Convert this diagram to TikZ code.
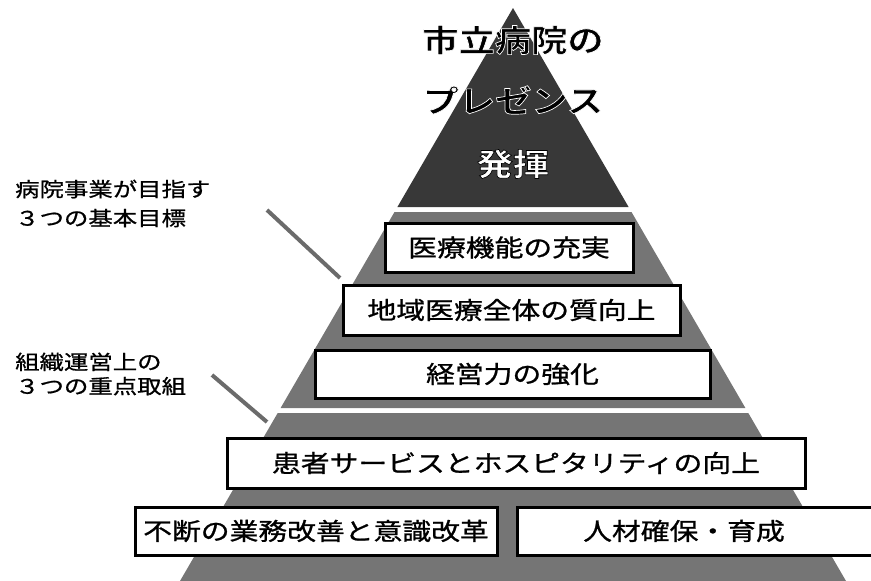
\documentclass[tikz,border=0pt]{standalone}
\usepackage{fontspec}
\newfontfamily\jp[FakeStretch=1.2,FakeBold=1]{Noto Sans CJK JP}
\newfontfamily\jplab[FakeStretch=1.22,FakeBold=0.8]{Noto Sans CJK JP}
\newfontfamily\jphalo[FakeStretch=1.17,FakeBold=2.2]{Noto Sans CJK JP Bold}
\newcommand\myhaloblack[1]{{\color{black}\special{pdf:literal direct 1 1 1 RG}#1}}
\newcommand\myhalowhite[1]{{\color{white}\special{pdf:literal direct 0 0 0 RG}#1}}
\definecolor{topc}{gray}{0.22}
\definecolor{bandc}{gray}{0.46}
\definecolor{leadc}{gray}{0.42}
\tikzset{
  goalbox/.style={draw=black, line width=3pt, fill=white, inner sep=0pt,
    font=\jp\fontsize{24}{28}\selectfont},
  sidelabel/.style={anchor=west, align=left, inner sep=0pt},
  leader/.style={draw=leadc, line width=4pt},
  titletext/.style={inner sep=0pt, font=\jphalo\fontsize{31}{36}\selectfont}
}
\begin{document}
\begin{tikzpicture}[x=1pt,y=-1pt]
\useasboundingbox (0,0) rectangle (871,581);
\begin{scope}
\clip (0,0) rectangle (871,581);
% pyramid layers
\fill[topc] (513,8) -- (628.6,207) -- (397.4,207) -- cycle;
\fill[bandc] (394.5,212) -- (631.5,212) -- (745.4,408) -- (280.6,408) -- cycle;
\fill[bandc] (277.7,413) -- (748.3,413) -- (846,581) -- (180,581) -- cycle;
% goal boxes
\node[goalbox, minimum width=248pt, minimum height=49pt] (b1) at (509,247.5) {医療機能の充実};
\node[goalbox, minimum width=337pt, minimum height=50pt] (b2) at (511.5,310) {地域医療全体の質向上};
\node[goalbox, minimum width=395pt, minimum height=48pt] (b3) at (512.5,374) {経営力の強化};
\node[goalbox, minimum width=578pt, minimum height=50pt] (b4) at (516,463) {患者サービスとホスピタリティの向上};
\node[goalbox, minimum width=362pt, minimum height=48pt] (b5) at (316,531) {不断の業務改善と意識改革};
\node[goalbox, anchor=west, minimum width=380pt, minimum height=48pt] (b6) at (516,531)
  {\makebox[333pt]{人材確保・育成}\hspace*{47pt}};
\end{scope}
% side labels
\node[sidelabel, font=\jplab\fontsize{20}{29}\selectfont] (lab1) at (15,203.5)
  {病院事業が目指す\\３つの基本目標};
\node[sidelabel, font=\jplab\fontsize{20}{24.3}\selectfont] (lab2) at (15,374)
  {組織運営上の\\３つの重点取組};
\coordinate (l1a) at (267,210);
\coordinate (l1b) at (340,278);
\coordinate (l2a) at (212,375);
\coordinate (l2b) at (267,422);
\draw[leader] (l1a) -- (l1b);
\draw[leader] (l2a) -- (l2b);
% title
\node[titletext] (t1) at (513,40) {\myhaloblack{市立病院の}};
\node[titletext] (t2) at (513,100) {\myhaloblack{プレゼンス}};
\node[titletext] (t3) at (513,164) {\myhalowhite{発揮}};
\end{tikzpicture}
\end{document}
